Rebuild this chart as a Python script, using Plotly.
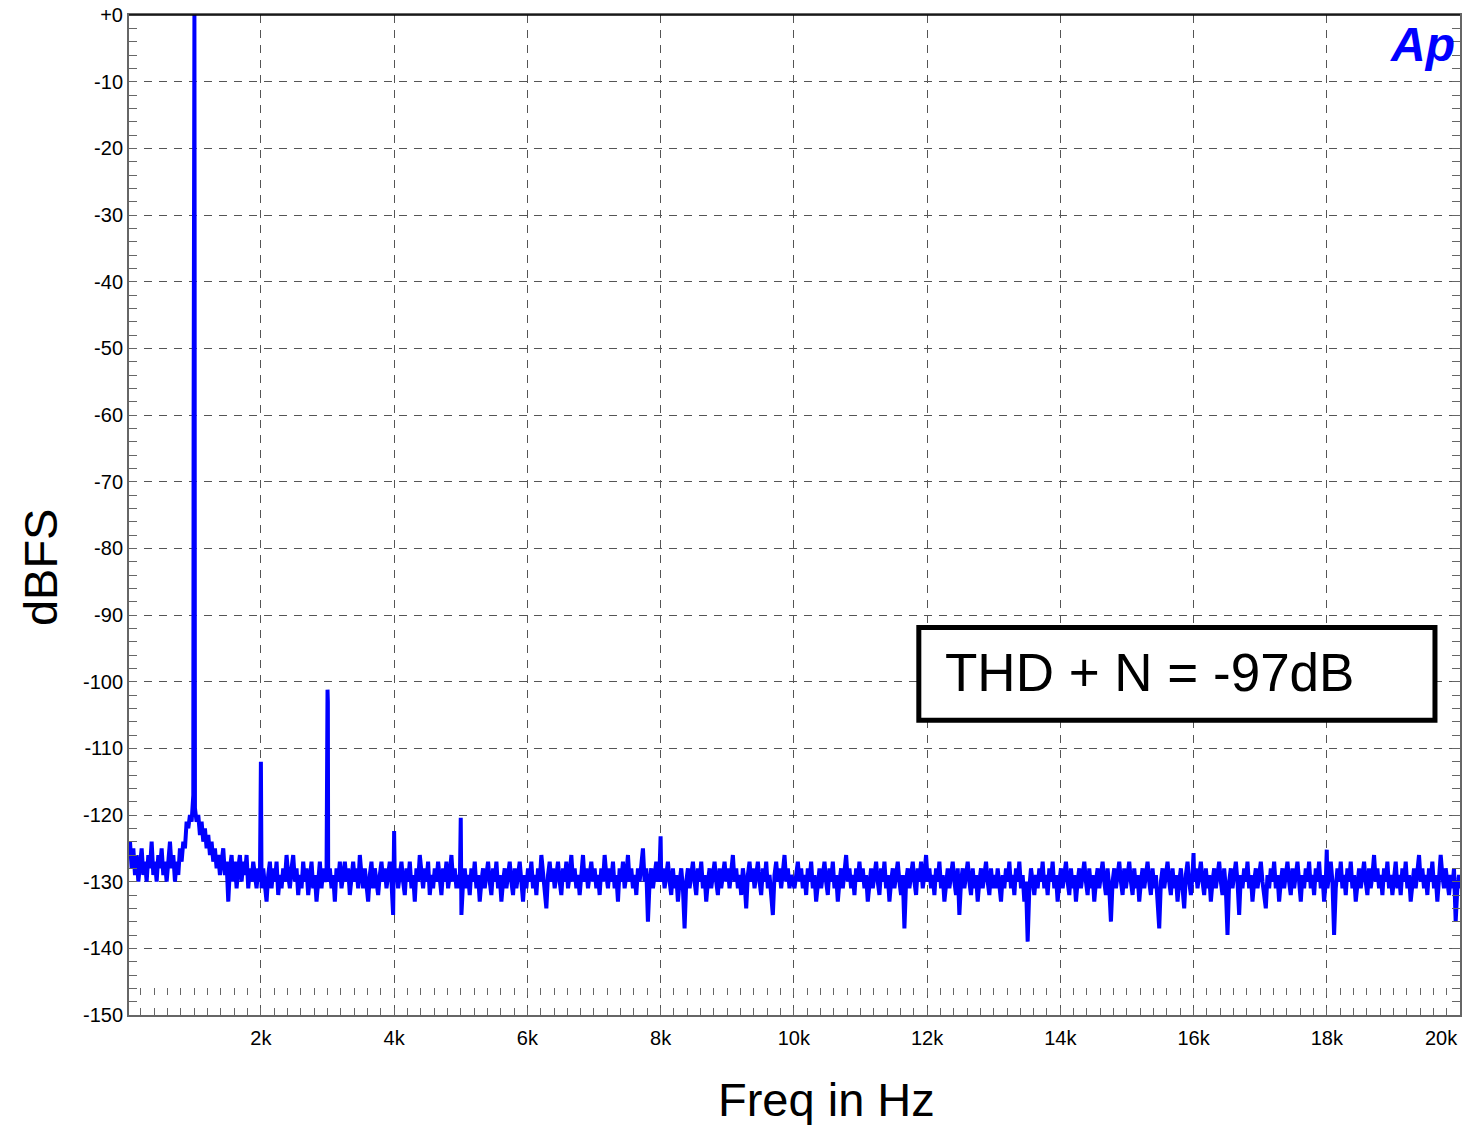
import plotly.graph_objects as go

# ---------------- data ----------------
NOISE_F0 = 10       # Hz, first noise-floor bin
NOISE_STEP = 25     # Hz, spacing of noise-floor bins
# noise floor in dBFS, one row per kHz (40 values each)
noise_db = [
    # 0 kHz
    -126, -124, -128, -125, -129, -126, -130, -127, -125, -129, -127, -130, -126, -128, -124, -129, -127, -130, -126, -128,
    -125, -129, -127, -130, -126, -124, -128, -126, -130, -127, -129, -125, -127, -124, -125, -121, -122, -120, -121, -117,
    # 1 kHz
    -119, -121, -120, -123, -121, -124, -122, -125, -123, -126, -124, -127, -125, -128, -126, -129, -127, -125, -129, -127,
    -133, -128, -126, -130, -127, -131, -128, -126, -130, -127, -129, -126, -131, -128, -130, -127, -129, -131, -128, -130,
    # 2 kHz
    -131, -128, -130, -133, -129, -127, -131, -128, -130, -127, -132, -129, -131, -128, -130, -126, -129, -131, -128, -126,
    -130, -128, -132, -129, -131, -127, -130, -128, -132, -129, -127, -131, -129, -133, -130, -127, -131, -128, -130, -129,
    # 3 kHz
    -130, -128, -131, -129, -133, -128, -130, -127, -131, -129, -127, -130, -128, -132, -129, -127, -130, -128, -131, -126,
    -129, -131, -128, -130, -133, -129, -127, -131, -128, -130, -132, -129, -127, -130, -128, -131, -129, -127, -130, -135,
    # 4 kHz
    -130, -128, -131, -129, -127, -130, -132, -128, -130, -127, -131, -129, -133, -128, -130, -126, -129, -131, -128, -130,
    -127, -132, -129, -131, -128, -130, -127, -129, -132, -128, -130, -127, -131, -129, -126, -130, -128, -131, -129, -131,
    # 5 kHz
    -135, -130, -128, -131, -129, -132, -128, -130, -127, -131, -129, -133, -130, -128, -131, -129, -127, -130, -132, -128,
    -130, -127, -131, -129, -133, -130, -128, -131, -129, -127, -130, -132, -128, -131, -129, -127, -130, -133, -129, -131,
    # 6 kHz
    -128, -130, -127, -131, -129, -132, -128, -130, -126, -129, -131, -134, -129, -127, -130, -128, -131, -129, -127, -130,
    -132, -128, -130, -127, -131, -129, -126, -130, -128, -131, -129, -132, -128, -126, -130, -128, -131, -129, -127, -130,
    # 7 kHz
    -128, -131, -129, -132, -128, -130, -126, -129, -131, -128, -130, -127, -131, -129, -133, -128, -130, -127, -131, -129,
    -126, -130, -128, -131, -129, -132, -128, -130, -127, -125, -130, -128, -136, -130, -128, -131, -129, -127, -130, -128,
    # 8 kHz
    -130, -128, -131, -129, -127, -130, -132, -128, -131, -129, -133, -130, -128, -131, -137, -130, -128, -131, -129, -127,
    -130, -132, -128, -130, -127, -131, -129, -133, -130, -128, -131, -129, -127, -130, -132, -128, -131, -129, -127, -130,
    # 9 kHz
    -128, -131, -129, -126, -130, -128, -131, -129, -132, -128, -130, -134, -129, -127, -130, -128, -131, -129, -127, -130,
    -132, -128, -130, -127, -131, -129, -133, -135, -129, -127, -130, -128, -131, -129, -126, -130, -128, -131, -129, -130,
    # 10 kHz
    -131, -129, -127, -130, -128, -131, -129, -132, -128, -130, -127, -131, -129, -133, -130, -128, -131, -129, -127, -130,
    -132, -128, -130, -127, -131, -129, -133, -130, -128, -131, -129, -126, -130, -128, -131, -129, -132, -128, -130, -127,
    # 11 kHz
    -130, -128, -131, -129, -133, -130, -128, -131, -129, -127, -130, -132, -128, -130, -127, -131, -129, -133, -130, -128,
    -131, -129, -127, -130, -132, -129, -137, -130, -128, -131, -129, -127, -130, -132, -128, -130, -127, -131, -129, -126,
    # 12 kHz
    -130, -128, -131, -129, -132, -128, -130, -127, -131, -129, -133, -130, -128, -131, -129, -127, -130, -132, -128, -135,
    -130, -128, -131, -129, -127, -130, -132, -128, -131, -129, -133, -130, -128, -131, -129, -127, -130, -132, -128, -131,
    # 13 kHz
    -129, -131, -128, -130, -133, -129, -131, -128, -130, -127, -131, -129, -132, -128, -130, -127, -131, -129, -133, -130,
    -139, -131, -128, -130, -132, -129, -131, -128, -130, -127, -131, -129, -132, -128, -130, -127, -131, -129, -133, -130,
    # 14 kHz
    -128, -131, -129, -127, -130, -132, -128, -131, -129, -133, -130, -128, -131, -129, -127, -130, -132, -128, -131, -129,
    -133, -130, -128, -131, -129, -127, -130, -132, -128, -131, -136, -130, -128, -131, -129, -127, -130, -132, -128, -131,
    # 15 kHz
    -129, -127, -130, -132, -128, -131, -129, -133, -130, -128, -131, -129, -127, -130, -132, -128, -131, -129, -134, -137,
    -130, -128, -131, -129, -127, -130, -132, -128, -131, -129, -133, -130, -128, -131, -134, -129, -127, -130, -132, -129,
    # 16 kHz
    -130, -128, -131, -129, -127, -130, -132, -128, -131, -129, -133, -130, -128, -131, -129, -127, -130, -132, -128, -131,
    -138, -130, -128, -131, -129, -127, -130, -135, -129, -131, -128, -130, -127, -131, -129, -133, -130, -128, -131, -129,
    # 17 kHz
    -127, -130, -132, -134, -129, -131, -128, -130, -127, -131, -129, -133, -130, -128, -131, -129, -127, -130, -132, -128,
    -131, -129, -127, -130, -133, -129, -131, -128, -130, -127, -131, -129, -132, -128, -130, -127, -131, -129, -133, -130,
    # 18 kHz
    -131, -129, -127, -130, -138, -131, -128, -130, -127, -131, -129, -132, -128, -130, -127, -131, -129, -133, -130, -128,
    -131, -129, -127, -130, -132, -128, -131, -129, -126, -130, -128, -131, -129, -132, -128, -130, -127, -131, -129, -132,
    # 19 kHz
    -129, -127, -131, -129, -132, -128, -130, -127, -131, -129, -133, -130, -128, -131, -129, -126, -130, -128, -131, -129,
    -132, -128, -130, -127, -131, -129, -133, -130, -126, -129, -131, -128, -130, -132, -129, -131, -128, -136, -131, -129,
    # 20 kHz
    -131,
]

# fundamental (1 kHz) and discrete spurs / harmonics
peak_freq = [990, 994, 997, 1002, 1005, 1008,
             2000, 3000, 3005, 4000, 5000, 8000, 16000, 18000]
peak_db = [-60, -10, 0, 0, -30, -95,
           -112, -101.2, -103, -122.4, -120.4, -123.2, -125.7, -125.2]

x_tick_vals = [2000, 4000, 6000, 8000, 10000, 12000, 14000, 16000, 18000]
x_tick_text = ["2k", "4k", "6k", "8k", "10k", "12k", "14k", "16k", "18k"]
y_tick_vals = [0, -10, -20, -30, -40, -50, -60, -70, -80, -90, -100, -110, -120, -130, -140, -150]
y_tick_text = ["+0", "-10", "-20", "-30", "-40", "-50", "-60", "-70", "-80", "-90",
               "-100", "-110", "-120", "-130", "-140", "-150"]

# ---------------- assemble trace ----------------
noise_freq = [NOISE_F0 + i * NOISE_STEP for i in range(len(noise_db))]
pts = sorted(list(zip(noise_freq, noise_db)) + list(zip(peak_freq, peak_db)))
xs = [p[0] for p in pts]
ys = [p[1] for p in pts]

FONT = "Liberation Sans, Arial, sans-serif"
GRID = "#555555"
AXC = "#666666"

fig = go.Figure()
fig.add_trace(go.Scatter(x=xs, y=ys, mode="lines",
                         line=dict(color="#0000FF", width=4),
                         hoverinfo="skip", showlegend=False))
# dummy trace for the second (tick-row) x axis
fig.add_trace(go.Scatter(x=[10000], y=[-150], xaxis="x2", mode="markers",
                         marker=dict(opacity=0), showlegend=False, hoverinfo="skip"))

fig.update_layout(
    width=1466, height=1125,
    margin=dict(l=129, r=4, t=11, b=110),
    paper_bgcolor="white", plot_bgcolor="white",
    font=dict(family=FONT, color="black", size=20),
    xaxis=dict(
        range=[20, 20000], tickmode="array", tickvals=x_tick_vals, ticktext=x_tick_text,
        ticks="inside", ticklen=7, tickcolor=AXC, tickwidth=1, ticklabelstandoff=4,
        minor=dict(dtick=200, tick0=0, ticks="inside", ticklen=7, tickcolor=AXC, showgrid=False),
        showgrid=True, gridcolor=GRID, gridwidth=1, griddash="8px,7px",
        showline=True, linecolor=AXC, linewidth=2, mirror=True,
        zeroline=False, tickfont=dict(size=20, color="black"),
    ),
    xaxis2=dict(
        overlaying="x", matches="x", anchor="free", position=0.02, side="bottom",
        tickmode="linear", tick0=0, dtick=200, ticks="inside", ticklen=7,
        tickcolor=AXC, tickwidth=1, showticklabels=False, showgrid=False,
        showline=False, zeroline=False,
    ),
    yaxis=dict(
        range=[-150, 0], tickmode="array", tickvals=y_tick_vals, ticktext=y_tick_text,
        ticks="inside", ticklen=8, tickcolor=AXC, tickwidth=1,
        minor=dict(dtick=2, tick0=0, ticks="inside", ticklen=8, tickcolor=AXC, showgrid=False),
        showgrid=True, gridcolor=GRID, gridwidth=1, griddash="8px,7px",
        showline=True, linecolor=AXC, linewidth=2, mirror="ticks",
        zeroline=False, tickfont=dict(size=20, color="black"),
    ),
    shapes=[
        dict(type="line", xref="paper", yref="paper", x0=0, x1=1, y0=1, y1=1,
             line=dict(color="black", width=1.5)),
        dict(type="rect", xref="paper", yref="paper", x0=0.5934, x1=0.9812, y0=0.2948, y1=0.3875,
             fillcolor="white", line=dict(color="black", width=5)),
    ],
    annotations=[
        dict(text="THD + N = -97dB", xref="paper", yref="paper", x=0.6114, y=0.3425,
             xanchor="left", yanchor="middle", showarrow=False,
             font=dict(size=53, color="black", family=FONT)),
        dict(text="<b><i>Ap</i></b>", xref="paper", yref="paper", x=0.998, y=0.999,
             xanchor="right", yanchor="top", showarrow=False,
             font=dict(size=48, color="#0000FF", family=FONT)),
        dict(text="20k", xref="paper", yref="paper", x=1.0, y=-0.010,
             xanchor="right", yanchor="top", showarrow=False,
             font=dict(size=20, color="black", family=FONT)),
        dict(text="Freq in Hz", xref="paper", yref="paper", x=0.5244, y=-0.0847,
             xanchor="center", yanchor="middle", showarrow=False,
             font=dict(size=47, color="black", family=FONT)),
        dict(text="dBFS", xref="paper", yref="paper", x=-0.0668, y=0.448,
             xanchor="center", yanchor="middle", showarrow=False, textangle=-90,
             font=dict(size=47, color="black", family=FONT)),
    ],
)

fig.write_html("out.html", config={"displayModeBar": False},
               post_script="document.body.style.margin='0px';")
